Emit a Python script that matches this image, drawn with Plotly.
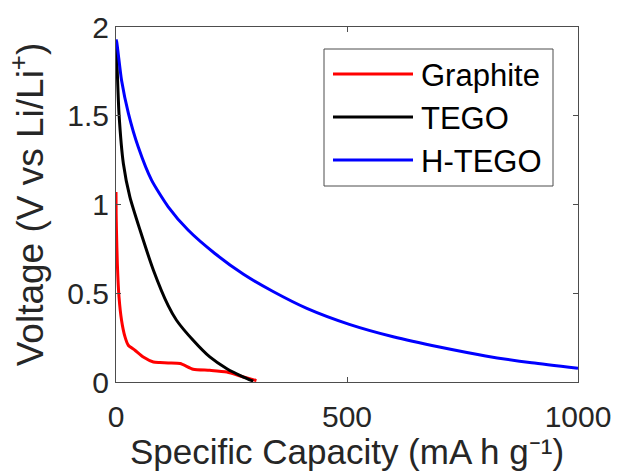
import plotly.graph_objects as go

# ---- data ----
graphite_x = [0, 0.3, 1, 2.9, 6.5, 12, 19.5, 26.6, 41, 59, 81, 95, 113, 139, 167, 203, 240, 276, 304]
graphite_v = [1.07, 0.95, 0.855, 0.667, 0.479, 0.348, 0.254, 0.207, 0.179, 0.141, 0.113, 0.110,
              0.107, 0.104, 0.072, 0.066, 0.056, 0.028, 0.008]

tego_x = [0, 1.5, 6.5, 16, 30, 52, 81, 113, 131, 167, 203, 240, 276, 297]
tego_v = [1.89, 1.832, 1.512, 1.23, 1.043, 0.856, 0.63, 0.43, 0.348, 0.235, 0.141, 0.075, 0.028, 0.005]

htego_x = [0, 1.5, 12, 27, 48, 77, 113, 156, 214, 276, 340, 413, 505, 600, 700, 800, 900, 1000]
htego_v = [1.93, 1.917, 1.70, 1.512, 1.325, 1.137, 0.987, 0.856, 0.724, 0.607, 0.51, 0.415, 0.325,
           0.255, 0.197, 0.147, 0.108, 0.077]

series_names = ["Graphite", "TEGO", "H-TEGO"]
series_colors = ["#ff0000", "#000000", "#0000ff"]

x_ticks = [0, 500, 1000]
y_ticks = [0, 0.5, 1, 1.5, 2]

FONT = "Liberation Sans, Arial, sans-serif"
AX = "#4d4d4d"
TXT = "#262626"

fig = go.Figure()
for name, xs, vs, col in zip(series_names, [graphite_x, tego_x, htego_x],
                             [graphite_v, tego_v, htego_v], series_colors):
    fig.add_trace(go.Scatter(x=xs, y=vs, mode="lines", name=name,
                             line=dict(color=col, width=3, shape="spline", smoothing=0.6),
                             showlegend=False))

# plot area in pixels: x 116..578, y 27..382
L, R, T, B = 116, 578, 27, 382
W, H = 617, 471
pw, ph = R - L, B - T

def px(xp):
    return (xp - L) / pw

def py(yp):
    return (B - yp) / ph

shapes = []
annotations = []
# legend box
shapes.append(dict(type="rect", xref="paper", yref="paper",
                   x0=px(324), x1=px(553), y0=py(186), y1=py(49),
                   line=dict(color=AX, width=1), fillcolor="white", layer="above"))
for i, (name, col) in enumerate(zip(series_names, series_colors)):
    yy = 74 + 43 * i
    shapes.append(dict(type="line", xref="paper", yref="paper",
                       x0=px(333), x1=px(413), y0=py(yy), y1=py(yy),
                       line=dict(color=col, width=3), layer="above"))
    annotations.append(dict(text=name, xref="paper", yref="paper", x=px(419), y=py(yy + 1),
                            xanchor="left", yanchor="middle", showarrow=False,
                            font=dict(family=FONT, size=31, color="black")))

axis_common = dict(showline=True, linecolor=AX, linewidth=1, mirror="ticks", automargin=False,
                   ticks="inside", ticklen=5, tickcolor=AX, showgrid=False, zeroline=False,
                   tickfont=dict(family=FONT, size=30, color=TXT))

fig.update_layout(
    width=W, height=H,
    margin=dict(l=L, r=W - R, t=T, b=H - B, autoexpand=False),
    paper_bgcolor="white", plot_bgcolor="white",
    xaxis=dict(range=[0, 1000], tickvals=x_ticks, ticktext=[str(v) for v in x_ticks],
               ticklabelstandoff=8,
               title=dict(text="Specific Capacity (mA h g\u207b\u00b9)", standoff=3,
                          font=dict(family=FONT, size=35, color=TXT)),
               **axis_common),
    yaxis=dict(range=[0, 2], tickvals=y_ticks, ticktext=["0", "0.5", "1", "1.5", "2"],
               title=dict(text="Voltage (V vs Li/Li<sup>+</sup>)", standoff=12,
                          font=dict(family=FONT, size=37, color=TXT)),
               **axis_common),
    shapes=shapes, annotations=annotations,
)

fig.write_html("out.html", config={"displayModeBar": False},
               post_script="document.body.style.margin='0px';")
